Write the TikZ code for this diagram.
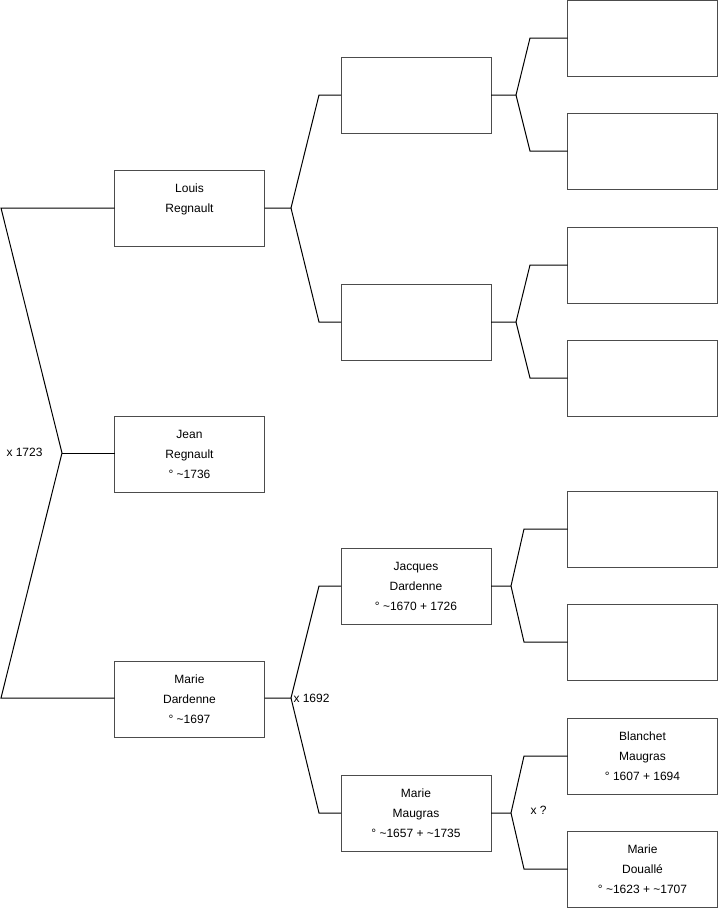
\documentclass[tikz,border=0pt]{standalone}
\usepackage{fontspec}
\setmainfont{Liberation Sans}
\newcommand{\ca}{\textasciitilde}
\begin{document}
\begin{tikzpicture}[x=0.75pt,y=0.75pt,yscale=-1,xscale=1,
  box/.style={draw=black!70,line width=0.75pt,minimum width=112.5pt,minimum height=57pt,
    inner sep=0pt,outer sep=0pt,align=center,font=\fontsize{9}{15}\selectfont},
  lbl/.style={anchor=west,inner sep=0.75pt,font=\fontsize{9}{11}\selectfont},
  line width=0.75pt]
\useasboundingbox (0,0) rectangle (719,908);
% persons
\node [box] (n1) at (189.5,454) {Jean\\Regnault\\° \ca1736};
\node [box] (n2) at (189.5,208) {Louis\\Regnault\\\mbox{}};
\node [box] (n3) at (189.5,699) {Marie\\Dardenne\\° \ca1697};
\node [box] (n4) at (416,95) {};
\node [box] (n5) at (416,322) {};
\node [box] (n6) at (416,586) {Jacques\\Dardenne\\° \ca1670 + 1726};
\node [box] (n7) at (416,813) {Marie\\Maugras\\° \ca1657 + \ca1735};
\node [box] (n8) at (642.5,38) {};
\node [box] (n9) at (642.5,151) {};
\node [box] (n10) at (642.5,265) {};
\node [box] (n11) at (642.5,378) {};
\node [box] (n12) at (642.5,529) {};
\node [box] (n13) at (642.5,642) {};
\node [box] (n14) at (642.5,756) {Blanchet\\Maugras\\° 1607 + 1694};
\node [box] (n15) at (642.5,869) {Marie\\Douallé\\° \ca1623 + \ca1707};
% junctions
\coordinate (j1) at (62,453);
\coordinate (a2) at (1,208);
\coordinate (a3) at (1,698);
\coordinate (j2) at (291,208);
\coordinate (a4) at (319,95);
\coordinate (a5) at (319,322);
\coordinate (j3) at (291,698);
\coordinate (a6) at (319,586);
\coordinate (a7) at (319,813);
\coordinate (j4) at (516,95);
\coordinate (a8) at (530,38);
\coordinate (a9) at (530,151);
\coordinate (j5) at (516,322);
\coordinate (a10) at (530,265);
\coordinate (a11) at (530,378);
\coordinate (j6) at (511,586);
\coordinate (a12) at (524,529);
\coordinate (a13) at (524,642);
\coordinate (j7) at (511,813);
\coordinate (a14) at (524,756);
\coordinate (a15) at (524,869);
% links
\draw (n2.west |- a2) -- (a2) -- (j1) -- (a3) -- (n3.west |- a3);
\draw (j1) -- (n1.west |- j1);
\draw (n2.east) -- (j2) -- (a4) -- (n4.west);
\draw (j2) -- (a5) -- (n5.west);
\draw (n3.east |- j3) -- (j3) -- (a6) -- (n6.west);
\draw (j3) -- (a7) -- (n7.west);
\draw (n4.east) -- (j4) -- (a8) -- (n8.west);
\draw (j4) -- (a9) -- (n9.west);
\draw (n5.east) -- (j5) -- (a10) -- (n10.west);
\draw (j5) -- (a11) -- (n11.west);
\draw (n6.east) -- (j6) -- (a12) -- (n12.west);
\draw (j6) -- (a13) -- (n13.west);
\draw (n7.east) -- (j7) -- (a14) -- (n14.west);
\draw (j7) -- (a15) -- (n15.west);
% marriages
\node [lbl] (m1) at (5,452) {x 1723};
\node [lbl] (m2) at (292,698) {x 1692};
\node [lbl] (m3) at (529,810) {x ?};
\end{tikzpicture}
\end{document}
